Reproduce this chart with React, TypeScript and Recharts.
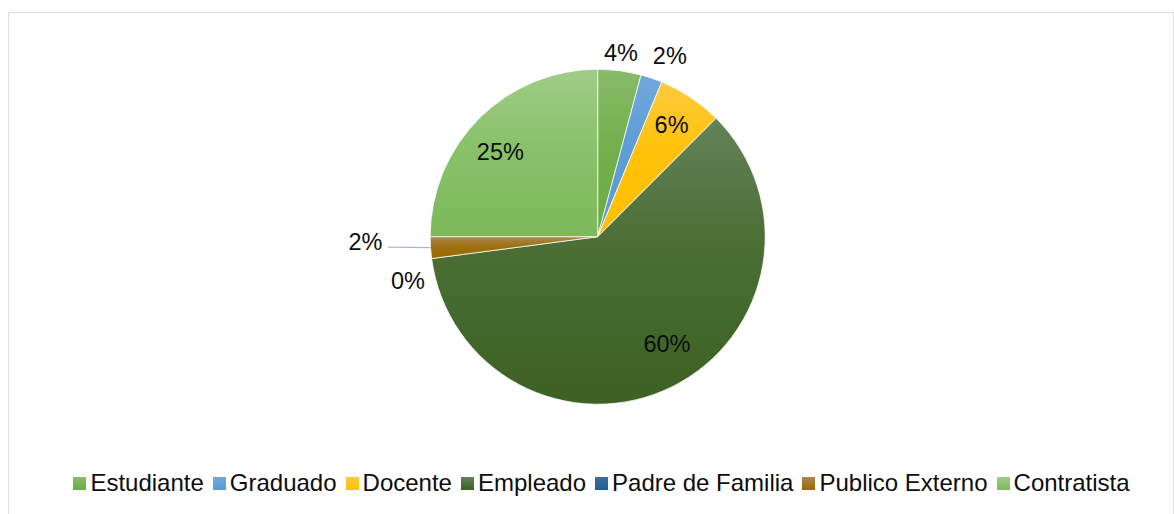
import { Cell, Legend, Pie, PieChart } from "recharts";

// Survey respondents by role (counts; 48 in total).
const CATEGORIES = [
  "Estudiante",
  "Graduado",
  "Docente",
  "Empleado",
  "Padre de Familia",
  "Publico Externo",
  "Contratista",
];
const COUNTS = [2, 1, 3, 29, 0, 1, 12];

// Office-style vertical gradient per slice: lighter at the top, base colour below.
const TOP_COLORS = ["#89bb69", "#72a8dc", "#ffca3c", "#64825a", "#3a6fa0", "#ab8650", "#a0cc88"];
const MID_COLORS = ["#74b04d", "#5e9dd6", "#ffc20a", "#4a6e34", "#2a6296", "#9d7010", "#8ac26b"];
const BASE_COLORS = ["#6aab43", "#5b9bd5", "#ffc000", "#3c6122", "#255e91", "#9a6b00", "#7db85a"];

// Where each percentage sits: angle shift (deg, clockwise) off the slice middle and
// radius as a share of the outer radius. Publico Externo gets a leader line instead.
const LABEL_PLACE: Record<string, { shift: number; r: number; leader?: number }> = {
  Estudiante: { shift: -0.3, r: 1.108 },
  Graduado: { shift: 3, r: 1.162 },
  Docente: { shift: -0.3, r: 0.8 },
  Empleado: { shift: -6.6, r: 0.762 },
  "Padre de Familia": { shift: -5.6, r: 1.163 },
  "Publico Externo": { shift: 0, r: 1, leader: 42.6 },
  Contratista: { shift: -4, r: 0.77 },
};

const FONT = '"Liberation Sans", Arial, sans-serif';
const FONT_SIZE = 23.5;
const RAD = Math.PI / 180;

const data = CATEGORIES.map((name, i) => ({ name, value: COUNTS[i] }));

function renderLabel(p: any) {
  const name = CATEGORIES[p.index];
  const place = LABEL_PLACE[name];
  const text = `${Math.round(p.percent * 100)}%`;
  if (place.leader) {
    const a = p.midAngle;
    const ex = p.cx + p.outerRadius * Math.cos(-a * RAD);
    const ey = p.cy + p.outerRadius * Math.sin(-a * RAD);
    const lx = ex - place.leader;
    return (
      <g key={`lbl-${p.index}`}>
        <line x1={ex} y1={ey} x2={lx} y2={ey - 0.5} stroke="#a7b7cd" strokeWidth={1.3} />
        <text
          x={lx - 5.5}
          y={ey - 5.8}
          textAnchor="end"
          dominantBaseline="central"
          fill="#0d0d0d"
          fontSize={FONT_SIZE}
          fontFamily={FONT}
        >
          {text}
        </text>
      </g>
    );
  }
  const a = p.midAngle - place.shift;
  const r = p.outerRadius * place.r;
  return (
    <text
      key={`lbl-${p.index}`}
      x={p.cx + r * Math.cos(-a * RAD)}
      y={p.cy + r * Math.sin(-a * RAD)}
      textAnchor="middle"
      dominantBaseline="central"
      fill="#0d0d0d"
      fontSize={FONT_SIZE}
      fontFamily={FONT}
    >
      {text}
    </text>
  );
}

function renderLegend() {
  return (
    <div
      style={{
        display: "flex",
        justifyContent: "center",
        paddingLeft: 38,
        fontFamily: FONT,
        fontSize: 24,
        lineHeight: "24px",
        color: "#0d0d0d",
        whiteSpace: "nowrap",
      }}
    >
      {CATEGORIES.map((name, i) => (
        <span key={name} style={{ display: "inline-flex", alignItems: "center", marginRight: 9 }}>
          <span
            style={{
              width: 13,
              height: 13,
              marginRight: 4,
              background: `linear-gradient(${TOP_COLORS[i]}, ${BASE_COLORS[i]})`,
            }}
          />
          {name}
        </span>
      ))}
    </div>
  );
}

export default function App() {
  return (
    <div style={{ position: "fixed", inset: 0, overflow: "hidden", background: "#fff" }}>
      <div
        style={{
          position: "absolute",
          left: 8,
          top: 12,
          width: 1166,
          height: 520,
          boxSizing: "border-box",
          border: "1px solid #dde1e7",
        }}
      />
      <div style={{ position: "absolute", left: 0, top: 0 }}>
        <PieChart width={1174} height={514} margin={{ top: 0, right: 0, bottom: 0, left: 0 }}>
          <defs>
            {CATEGORIES.map((name, i) => (
              <linearGradient key={name} id={`slice-${i}`} x1="0" y1="0" x2="0" y2="1">
                <stop offset="0%" stopColor={TOP_COLORS[i]} />
                <stop offset="45%" stopColor={MID_COLORS[i]} />
                <stop offset="100%" stopColor={BASE_COLORS[i]} />
              </linearGradient>
            ))}
          </defs>
          <Pie
            data={data}
            dataKey="value"
            nameKey="name"
            cx={597.7}
            cy={236.7}
            outerRadius={167.5}
            startAngle={90}
            endAngle={-270}
            stroke="#ffffff"
            strokeWidth={0.75}
            label={renderLabel}
            labelLine={false}
            isAnimationActive={false}
          >
            {data.map((d, i) => (
              <Cell key={d.name} fill={`url(#slice-${i})`} />
            ))}
          </Pie>
          <Legend
            content={renderLegend}
            wrapperStyle={{ position: "absolute", top: 471, left: 0, width: 1174 }}
          />
        </PieChart>
      </div>
    </div>
  );
}
